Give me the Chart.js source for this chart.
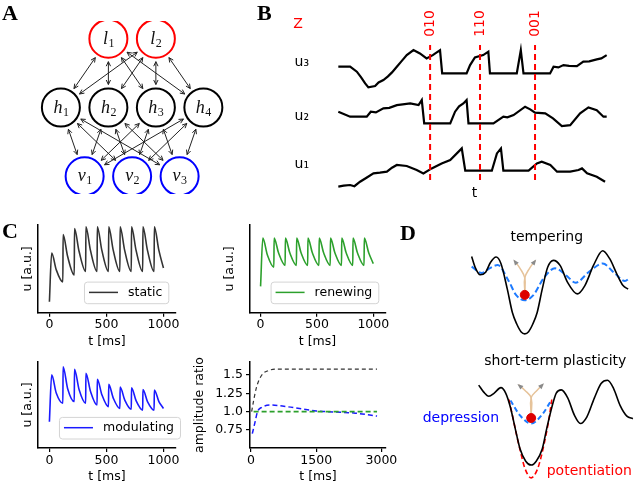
<!DOCTYPE html>
<html>
<head>
<meta charset="utf-8">
<script src="https://cdn.jsdelivr.net/npm/chart.js@4.4.1/dist/chart.umd.min.js"></script>
<style>
  html, body { margin: 0; padding: 0; background: #fff; }
  body { position: relative; width: 640px; height: 484px; overflow: hidden; }
  canvas { position: absolute; }
  .panel { position: absolute; z-index: 2; font: bold 22px 'Liberation Serif', 'DejaVu Serif', serif; line-height: 22px; }
</style>
</head>
<body>
<canvas id="netA" width="250" height="215" style="left:0;top:0"></canvas>
<canvas id="tracesB" width="390" height="200" style="left:250px;top:0"></canvas>
<canvas id="staticC" width="195" height="135" style="left:0;top:215px"></canvas>
<canvas id="renewC" width="195" height="135" style="left:200px;top:215px"></canvas>
<canvas id="modC" width="195" height="134" style="left:0;top:350px"></canvas>
<canvas id="ratioC" width="215" height="134" style="left:190px;top:350px"></canvas>
<canvas id="landD" width="240" height="274" style="left:400px;top:210px"></canvas>
<div class="panel" style="left:2px;top:2px">A</div>
<div class="panel" style="left:257px;top:2px">B</div>
<div class="panel" style="left:2px;top:220px">C</div>
<div class="panel" style="left:400px;top:222px">D</div>
<script>
// ---- A: network ----
const topNodeNames = ['l1', 'l2']
const hiddenNodeNames = ['h1', 'h2', 'h3', 'h4']
const visibleNodeNames = ['v1', 'v2', 'v3']
const topNodeCols = [1, 2]
const hiddenNodeCols = [0, 1, 2, 3]
const visibleNodeCols = [0.5, 1.5, 2.5]
const layerLevels = [2, 1, 0]

// ---- B: unit traces (t, u above the silent level) ----
const u3Trace = [[0, 0.67], [4.4, 0.67], [6.9, 0.17], [8.5, -0.4], [10, -1.0], [11.2, -1.4], [13.7, -1.27], [15, -0.9], [16.8, -0.67], [18.5, -0.3], [20, 0.1], [21.8, 0.67], [23.5, 1.2], [25.5, 1.83], [28, 2.33], [30.4, 2.0], [32.9, 1.5], [35.2, 1.83], [37.9, 2.33], [38.7, 0], [47.8, 0], [49.1, 0.83], [50.9, 1.6], [54, 1.83], [55.9, 2.17], [56.5, 0], [66.5, 0], [68, 2.33], [69, 0], [78.9, 0], [80.2, 0.67], [82, 0.6], [83.9, 0.83], [86, 0.75], [88.9, 0.73], [91.3, 1.17], [93.5, 1.2], [96.3, 1.4], [98, 1.5], [100, 1.83]]
const u2Trace = [[0, 1.17], [4.4, 0.67], [10.6, 0.67], [12.1, 1.17], [14, 1.1], [16.8, 1.5], [19, 1.55], [21.8, 1.83], [24, 1.9], [26.8, 2.0], [29.9, 1.83], [31.1, 2.33], [32, 0], [41.7, 0], [43.5, 1.17], [45, 1.7], [46.6, 2.0], [47.8, 2.33], [48.5, 0], [57.8, 0], [61.5, 0.67], [63, 0.6], [65.3, 0.83], [69.6, 1.67], [71.5, 1.4], [73.3, 1.07], [77.1, 1.0], [80, 0.5], [83.3, -0.27], [86.4, -0.17], [90.1, 1.0], [93.2, 1.6], [96.3, 1.33], [98.8, 0.67], [100, 0.67]]
const u1Trace = [[0, -1.6], [2, -1.5], [4.4, -1.43], [6, -1.55], [8.1, -1.1], [10.5, -0.7], [13.1, -0.27], [15.5, -0.2], [18.1, -0.1], [20, 0.3], [21.8, 0.57], [25.5, 0.47], [29.2, 0.07], [31.7, -0.27], [34.8, 0.23], [38.5, 0.73], [41.7, 1.07], [46, 2.23], [47.3, 0], [57.2, 0], [59.1, 1.73], [60.6, 2.23], [61.5, 0], [70.9, 0], [74, 0.73], [75.8, 0.9], [79, 0.57], [81.5, -0.1], [86.4, -0.1], [89.5, 0.07], [90.8, 0.23], [92.7, -0.27], [96.3, -0.6], [99.4, -1.1]]
const traceNames = ['u₁', 'u₂', 'u₃']
const traceOffsets = [0, 4.73, 9.73]
const traceLabelLevels = [0.6, 5.4, 10.8]
const switchTimes = [34.2, 52.8, 73.3]
const switchCodes = ['010', '110', '001']
const switchSpan = [-0.93, 12.57]

// ---- C: synaptic traces (t [ms], u [a.u.]) ----
const staticTrace = [[0, 1.25], [20, 6.8], [60, 4.9], [118, 3.5], [120, 8.9], [160, 6.4], [218, 4.3], [220, 9.6], [260, 7.0], [318, 4.7], [320, 9.8], [360, 7.1], [418, 4.7], [420, 9.8], [460, 7.1], [518, 4.7], [520, 9.8], [560, 7.1], [618, 4.7], [620, 9.8], [660, 7.1], [718, 4.7], [720, 9.8], [760, 7.1], [818, 4.7], [820, 9.8], [860, 7.1], [918, 4.7], [920, 9.8], [960, 7.1], [1000, 5.1]]
const renewingTrace = [[0, 3.0], [20, 8.5], [60, 6.6], [118, 5.2], [120, 8.5], [160, 6.8], [218, 5.4], [220, 8.5], [260, 6.8], [318, 5.4], [320, 8.5], [360, 6.8], [418, 5.4], [420, 8.5], [460, 6.8], [518, 5.4], [520, 8.5], [560, 6.8], [618, 5.4], [620, 8.5], [660, 6.8], [718, 5.4], [720, 8.5], [760, 6.8], [818, 5.4], [820, 8.5], [860, 6.8], [918, 5.4], [920, 8.5], [960, 6.8], [1000, 5.6]]
const modulatingTrace = [[0, 3.06], [20, 8.5], [60, 6.4], [118, 5.2], [120, 9.45], [160, 6.9], [218, 5.4], [220, 9.15], [260, 6.8], [318, 5.2], [320, 8.7], [360, 6.6], [418, 5.0], [420, 8.0], [460, 6.2], [518, 4.8], [520, 7.4], [560, 5.8], [618, 4.6], [620, 7.1], [660, 5.6], [718, 4.5], [720, 7.0], [760, 5.5], [818, 4.4], [820, 6.8], [860, 5.4], [918, 4.4], [920, 6.75], [960, 5.4], [1000, 4.6]]
const staticRatio = [[15, 1.0], [60, 1.15], [130, 1.34], [250, 1.5], [400, 1.56], [600, 1.58], [2900, 1.58]]
const renewingRatio = [[60, 1.0], [2900, 1.0]]
const modulatingRatio = [[30, 0.70], [90, 0.85], [150, 1.0], [250, 1.06], [450, 1.09], [800, 1.07], [1500, 1.01], [2400, 0.98], [2900, 0.94]]
const traceTicks = [0, 500, 1000]
const ratioTimeTicks = [0, 1500, 3000]
const ratioTicks = [0.75, 1.0, 1.25, 1.5]
const ratioTickLabels = ['0.75', '1.0', '1.25', '1.5']

// ---- D: energy landscapes (q, E) ----
const temperLandscape = [[6.93, 23.13], [7.3, 22.0], [7.83, 21.23], [8.4, 21.5], [8.9, 22.5], [9.5, 23.07], [10.0, 22.4], [10.67, 19.73], [11.2, 17.3], [11.67, 16.07], [12.1, 15.3], [12.5, 15.07], [12.9, 15.3], [13.33, 16.07], [13.8, 17.3], [14.33, 19.73], [14.9, 22.0], [15.5, 22.73], [16.2, 22.2], [17.0, 20.4], [18.0, 19.23], [18.8, 20.1], [19.7, 22.2], [20.67, 23.73], [21.4, 22.9], [22.2, 21.2], [22.8, 20.1], [23.33, 19.73]]
const temperFlattened = [[6.93, 22.07], [8.0, 21.4], [8.8, 21.9], [9.67, 22.23], [10.8, 20.6], [11.6, 19.1], [12.5, 18.57], [13.4, 19.1], [14.5, 20.9], [15.67, 21.9], [16.8, 21.2], [17.83, 20.4], [19.2, 21.5], [20.67, 22.4], [21.9, 21.4], [23.0, 20.57], [23.5, 20.9]]
const stpLandscape = [[7.67, 9.73], [8.2, 9.0], [8.73, 8.57], [9.3, 8.9], [10.0, 9.47], [10.5, 8.9], [11.0, 7.4], [11.5, 5.2], [12.0, 3.1], [12.6, 1.8], [13.17, 1.4], [13.7, 1.8], [14.33, 3.07], [14.8, 5.2], [15.33, 7.4], [15.8, 8.9], [16.33, 9.23], [17.0, 8.4], [17.7, 6.6], [18.33, 5.73], [19.0, 6.4], [19.8, 8.4], [20.5, 9.9], [21.17, 10.23], [21.8, 9.4], [22.5, 7.6], [23.2, 6.5], [23.83, 6.23]]
const stpPotentiation = [[10.83, 8.23], [11.2, 6.6], [11.67, 4.4], [12.1, 2.6], [12.5, 1.1], [13.17, 0.07], [13.8, 0.9], [14.2, 2.2], [14.83, 5.07], [15.1, 6.6], [15.33, 8.23]]
const stpDepression = [[11.0, 8.13], [12.0, 6.57], [13.17, 5.73], [14.33, 6.67], [15.27, 8.13]]
const particles = [[12.5, 19.13], [13.17, 6.3]]
const temperKickLeft = [[12.5, 19.5], [12.5, 20.9], [12.0, 21.9], [11.4, 22.7]]
const temperKickRight = [[12.5, 19.5], [12.5, 20.9], [13.0, 21.9], [13.6, 22.7]]
const stpKickLeft = [[13.17, 6.6], [13.17, 8.4], [12.5, 9.2], [11.85, 9.75]]
const stpKickRight = [[13.17, 6.6], [13.17, 8.4], [13.8, 9.2], [14.4, 9.8]]

Chart.defaults.font.family = "'DejaVu Sans', sans-serif"
Chart.defaults.color = '#000'

const pts = (arr, dy = 0) => arr.map(([x, y]) => ({ x, y: y + dy }))
const noPlugins = { legend: { display: false }, tooltip: { enabled: false } }

function arrowHead(ctx, x, y, ang, len) {
  ctx.moveTo(x - len * Math.cos(ang - 0.45), y - len * Math.sin(ang - 0.45))
  ctx.lineTo(x, y)
  ctx.lineTo(x - len * Math.cos(ang + 0.45), y - len * Math.sin(ang + 0.45))
}

// ---------- A ----------
const netEdges = {
  id: 'netEdges',
  beforeDatasetsDraw(chart) {
    const { ctx } = chart
    const gap = 23
    ctx.save()
    ctx.strokeStyle = '#222'
    ctx.lineWidth = 1
    for (let k = 0; k < 2; k++) {
      const upper = chart.getDatasetMeta(k).data
      const lower = chart.getDatasetMeta(k + 1).data
      upper.forEach((a) => lower.forEach((b) => {
        const ang = Math.atan2(b.y - a.y, b.x - a.x)
        const x1 = a.x + gap * Math.cos(ang), y1 = a.y + gap * Math.sin(ang)
        const x2 = b.x - gap * Math.cos(ang), y2 = b.y - gap * Math.sin(ang)
        ctx.beginPath()
        ctx.moveTo(x1, y1)
        ctx.lineTo(x2, y2)
        arrowHead(ctx, x2, y2, ang, 5)
        arrowHead(ctx, x1, y1, ang + Math.PI, 5)
        ctx.stroke()
      }))
    }
    ctx.restore()
  },
  afterDatasetsDraw(chart) {
    const { ctx } = chart
    ctx.save()
    ctx.fillStyle = '#111'
    chart.data.datasets.forEach((ds, i) => {
      chart.getDatasetMeta(i).data.forEach((pt, j) => {
        const name = ds.data[j].name
        ctx.font = "italic 18px 'Liberation Serif'"
        const w1 = ctx.measureText(name[0]).width
        ctx.font = "12px 'Liberation Serif'"
        const w2 = ctx.measureText(name.slice(1)).width
        const x0 = pt.x - (w1 + w2) / 2
        ctx.font = "italic 18px 'Liberation Serif'"
        ctx.fillText(name[0], x0, pt.y + 5)
        ctx.font = "12px 'Liberation Serif'"
        ctx.fillText(name.slice(1), x0 + w1 + 0.5, pt.y + 8)
      })
    })
    ctx.restore()
  }
}

const layers = [
  { names: topNodeNames, cols: topNodeCols, color: '#ff0000' },
  { names: hiddenNodeNames, cols: hiddenNodeCols, color: '#000000' },
  { names: visibleNodeNames, cols: visibleNodeCols, color: '#0000ff' }
]

new Chart(document.getElementById('netA'), {
  type: 'scatter',
  data: {
    datasets: layers.map((layer, k) => ({
      data: layer.cols.map((c, i) => ({ x: c, y: layerLevels[k], name: layer.names[i] })),
      pointRadius: 19,
      pointBorderWidth: 2,
      pointBorderColor: layer.color,
      pointBackgroundColor: '#ffffff'
    }))
  },
  options: {
    responsive: false, animation: false, events: [],
    layout: { padding: 0 },
    scales: {
      x: { type: 'linear', min: -0.84, max: 3.54, display: false },
      y: { type: 'linear', min: -0.257, max: 2.257, display: false }
    },
    plugins: noPlugins
  },
  plugins: [netEdges]
})

// ---------- B ----------
const switchLabels = {
  id: 'switchLabels',
  afterDraw(chart) {
    const { ctx, chartArea, scales: { x, y } } = chart
    ctx.save()
    ctx.font = "14px 'DejaVu Sans'"
    ctx.textBaseline = 'middle'
    ctx.fillStyle = '#000'
    ctx.textAlign = 'right'
    traceLabelLevels.forEach((v, i) => {
      ctx.fillText(traceNames[i], chartArea.left - 21, y.getPixelForValue(v))
    })
    ctx.textAlign = 'center'
    ctx.fillText('t', (chartArea.left + chartArea.right) / 2 + 2, chartArea.bottom + 8)
    ctx.fillStyle = '#ff0000'
    ctx.fillText('Z', chartArea.left - 32, 24.5)
    switchTimes.forEach((t, i) => {
      ctx.save()
      ctx.translate(x.getPixelForValue(t), 23.5)
      ctx.rotate(-Math.PI / 2)
      ctx.fillText(switchCodes[i], 0, 0)
      ctx.restore()
    })
    ctx.restore()
  }
}

new Chart(document.getElementById('tracesB'), {
  type: 'scatter',
  data: {
    datasets: [
      ...switchTimes.map((t) => ({
        data: switchSpan.map((v) => ({ x: t, y: v })),
        showLine: true, pointRadius: 0, borderColor: '#ff0000', borderWidth: 2,
        borderDash: [6, 4], order: 0
      })),
      ...[u1Trace, u2Trace, u3Trace].map((tr, i) => ({
        data: pts(tr, traceOffsets[i]),
        showLine: true, pointRadius: 0, borderColor: '#000', borderWidth: 2.2,
        tension: 0, order: 1, clip: false
      }))
    ]
  },
  options: {
    responsive: false, animation: false, events: [],
    layout: { padding: { top: 30, right: 25, left: 80, bottom: 15 } },
    scales: {
      x: { type: 'linear', min: -3.1, max: 103.1, display: false },
      y: { type: 'linear', min: -1.43, max: 14.07, display: false }
    },
    plugins: noPlugins
  },
  plugins: [switchLabels]
})

// ---------- C ----------
const legendBox = {
  id: 'legendBox',
  afterDatasetsDraw(chart, args, opts) {
    if (!opts || !opts.text) return
    const { ctx, chartArea } = chart
    ctx.save()
    ctx.font = "12.5px 'DejaVu Sans'"
    const tw = ctx.measureText(opts.text).width
    const w = 5 + 29 + 10 + tw + 6
    const h = 21.6
    const x0 = chartArea.right - opts.right - w
    const y0 = chartArea.bottom - 9.5 - h
    ctx.beginPath()
    ctx.roundRect(x0 + 0.5, y0 + 0.5, w, h, 3)
    ctx.fillStyle = 'rgba(255,255,255,0.85)'
    ctx.fill()
    ctx.strokeStyle = '#d4d4d4'
    ctx.lineWidth = 1
    ctx.stroke()
    ctx.beginPath()
    ctx.moveTo(x0 + 5, y0 + h / 2)
    ctx.lineTo(x0 + 34, y0 + h / 2)
    ctx.strokeStyle = opts.color
    ctx.lineWidth = 1.5
    ctx.stroke()
    ctx.fillStyle = '#000'
    ctx.textBaseline = 'middle'
    ctx.fillText(opts.text, x0 + 44, y0 + h / 2 + 0.5)
    ctx.restore()
  }
}

function initTraceChart(id, cfg) {
  return new Chart(document.getElementById(id), {
    type: 'scatter',
    data: { datasets: cfg.datasets },
    options: {
      responsive: false, animation: false, events: [],
      layout: { padding: { left: 0, top: cfg.top, right: cfg.right, bottom: 0 } },
      scales: {
        x: {
          type: 'linear', min: cfg.xMin, max: cfg.xMax,
          afterBuildTicks: (s) => { s.ticks = cfg.xTicks.map((v) => ({ value: v })) },
          afterFit: (s) => { s.height = cfg.xHeight },
          grid: { drawOnChartArea: false, drawTicks: true, tickLength: 4, color: '#000', lineWidth: 1.2 },
          border: { display: true, color: '#000', width: 1.5 },
          ticks: { font: { size: 12.5 }, padding: 1, maxRotation: 0, callback: (v) => String(v) },
          title: { display: true, text: 't [ms]', font: { size: 12.5 }, padding: { top: 0, bottom: cfg.xTitlePad } }
        },
        y: {
          type: 'linear', min: cfg.yMin, max: cfg.yMax,
          afterBuildTicks: (s) => { s.ticks = (cfg.yTicks || []).map((v) => ({ value: v })) },
          afterFit: (s) => { s.width = cfg.yWidth },
          grid: { display: !!cfg.yTicks, drawOnChartArea: false, drawTicks: true, tickLength: 4, color: '#000', lineWidth: 1.2 },
          border: { display: true, color: '#000', width: 1.5 },
          ticks: { display: !!cfg.yTicks, font: { size: 12.5 }, padding: 3, callback: (v, i) => cfg.yTickLabels ? cfg.yTickLabels[i] : '' },
          title: { display: true, text: cfg.yTitle, font: { size: 12.5 }, padding: { top: cfg.yTitlePad, bottom: 0 } }
        }
      },
      plugins: { ...noPlugins, legendBox: cfg.legend || {} }
    },
    plugins: [legendBox]
  })
}

const solid = (arr, color) => ({
  data: pts(arr), showLine: true, pointRadius: 0, borderColor: color, borderWidth: 1.6,
  cubicInterpolationMode: 'monotone'
})
const dashed = (arr, color, dash, width) => ({
  data: pts(arr), showLine: true, pointRadius: 0, borderColor: color, borderWidth: width,
  borderDash: dash, cubicInterpolationMode: 'monotone'
})

initTraceChart('staticC', {
  datasets: [solid(staticTrace, '#333333')],
  top: 10, right: 19, xHeight: 37.3, yWidth: 38, xMin: -100, xMax: 1110, yMin: 0, yMax: 10,
  xTicks: traceTicks, xTitlePad: 0.8, yTitle: 'u [a.u.]', yTitlePad: 20.5,
  legend: { text: 'static', color: '#333333', right: 7.7 }
})
initTraceChart('renewC', {
  datasets: [solid(renewingTrace, '#2ca02c')],
  top: 10, right: 9.3, xHeight: 37.3, yWidth: 49.3, xMin: -100, xMax: 1110, yMin: 0, yMax: 10,
  xTicks: traceTicks, xTitlePad: 0.8, yTitle: 'u [a.u.]', yTitlePad: 22.5,
  legend: { text: 'renewing', color: '#2ca02c', right: 7.4 }
})
initTraceChart('modC', {
  datasets: [solid(modulatingTrace, '#1a1aff')],
  top: 12, right: 19, xHeight: 36, yWidth: 38, xMin: -100, xMax: 1110, yMin: 0, yMax: 10,
  xTicks: traceTicks, xTitlePad: 0, yTitle: 'u [a.u.]', yTitlePad: 20.5,
  legend: { text: 'modulating', color: '#1a1aff', right: -4 }
})
initTraceChart('ratioC', {
  datasets: [
    dashed(renewingRatio, '#2ca02c', [5, 3], 1.8),
    dashed(modulatingRatio, '#1a1aff', [5, 3], 1.5),
    dashed(staticRatio, '#333333', [4, 3], 1.2)
  ],
  top: 12, right: 19, xHeight: 36, yWidth: 60, xMin: -23, xMax: 3106, yMin: 0.505, yMax: 1.677,
  xTicks: ratioTimeTicks, xTitlePad: 0, yTitle: 'amplitude ratio', yTitlePad: 2.5,
  yTicks: ratioTicks, yTickLabels: ratioTickLabels
})

// ---------- D ----------
const landscapeNotes = {
  id: 'landscapeNotes',
  afterDatasetsDraw(chart) {
    const { ctx, scales: { x, y } } = chart
    ctx.save()
    chart.data.datasets.forEach((ds, i) => {
      if (!ds.arrow) return
      const els = chart.getDatasetMeta(i).data
      const a = els[els.length - 2], b = els[els.length - 1]
      const ang = Math.atan2(b.y - a.y, b.x - a.x)
      const len = 5
      ctx.beginPath()
      ctx.moveTo(b.x + 1.5 * Math.cos(ang), b.y + 1.5 * Math.sin(ang))
      ctx.lineTo(b.x - len * Math.cos(ang - 0.5), b.y - len * Math.sin(ang - 0.5))
      ctx.lineTo(b.x - len * Math.cos(ang + 0.5), b.y - len * Math.sin(ang + 0.5))
      ctx.closePath()
      ctx.fillStyle = '#8a8a8a'
      ctx.fill()
    })
    ctx.font = "14px 'DejaVu Sans'"
    ctx.textBaseline = 'middle'
    ctx.textAlign = 'center'
    ctx.fillStyle = '#000'
    ctx.fillText('tempering', x.getPixelForValue(14.8), y.getPixelForValue(25.1))
    ctx.fillText('short-term plasticity', x.getPixelForValue(15.7), y.getPixelForValue(12.2))
    ctx.textAlign = 'left'
    ctx.fillStyle = '#0000ff'
    ctx.fillText('depression', x.getPixelForValue(1.8), y.getPixelForValue(6.3))
    ctx.fillStyle = '#ff0000'
    ctx.fillText('potentiation', x.getPixelForValue(14.8), y.getPixelForValue(0.7))
    ctx.restore()
  }
}

const kick = (arr) => ({
  data: pts(arr), showLine: true, pointRadius: 0, borderColor: '#e6c39a', borderWidth: 1.5,
  tension: 0.4, arrow: true, order: 2
})

new Chart(document.getElementById('landD'), {
  type: 'scatter',
  data: {
    datasets: [
      { data: pts(particles), pointRadius: 4.5, pointBackgroundColor: '#dd0000', pointBorderColor: '#dd0000', order: 0 },
      { ...solid(temperLandscape, '#000'), order: 3, clip: false },
      { ...dashed(temperFlattened, '#1e7bff', [6, 3], 2), order: 3, clip: false },
      { ...solid(stpLandscape, '#000'), order: 3, clip: false },
      { ...dashed(stpPotentiation, '#ff0000', [5, 3], 1.6), order: 3, clip: false },
      { ...dashed(stpDepression, '#1e7bff', [5, 3], 2), order: 3, clip: false },
      kick(temperKickLeft), kick(temperKickRight), kick(stpKickLeft), kick(stpKickRight)
    ]
  },
  options: {
    responsive: false, animation: false, events: [],
    layout: { padding: 0 },
    scales: {
      x: { type: 'linear', min: 0, max: 24, display: false },
      y: { type: 'linear', min: 0, max: 27.4, display: false }
    },
    plugins: noPlugins
  },
  plugins: [landscapeNotes]
})
</script>
</body>
</html>
